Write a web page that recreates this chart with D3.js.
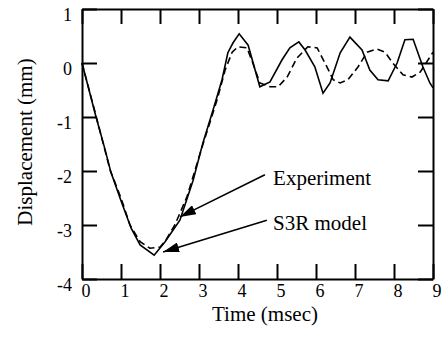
<!DOCTYPE html>
<html>
<head>
<meta charset="utf-8">
<script src="https://cdn.jsdelivr.net/npm/d3@7"></script>
<style>
  body { margin: 0; background: #fff; }
  text { font-family: "Liberation Serif", "Times New Roman", serif; fill: #000; }
</style>
</head>
<body>
<div id="chart"></div>
<script>
// time (msec) / displacement (mm)
const modelTime = [0, 0.36, 0.59, 0.74, 1.0, 1.26, 1.49, 1.85, 2.13, 2.51, 2.85, 3.10, 3.36, 3.59,
  3.74, 3.87, 4.03, 4.26, 4.56, 4.82, 5.13, 5.33, 5.56, 5.72, 5.97, 6.18, 6.36, 6.62, 6.87,
  7.18, 7.38, 7.59, 7.85, 8.08, 8.28, 8.49, 8.74, 8.92, 9.0];
const modelDisp = [0, -1.0, -1.6, -2.02, -2.55, -3.06, -3.37, -3.56, -3.31, -2.91, -2.17, -1.48, -0.87, -0.31,
  0.19, 0.37, 0.54, 0.33, -0.44, -0.35, 0.06, 0.28, 0.39, 0.24, -0.07, -0.56, -0.37, 0.19, 0.48,
  0.24, -0.13, -0.31, -0.33, 0, 0.43, 0.44, -0.07, -0.37, -0.46];

const expTime = [0, 0.36, 0.72, 1.0, 1.23, 1.49, 1.74, 2.0, 2.15, 2.38, 2.69, 3.03, 3.46, 3.67,
  3.85, 4.0, 4.23, 4.38, 4.56, 4.82, 5.03, 5.26, 5.51, 5.79, 6.03, 6.28, 6.44, 6.62, 6.82,
  7.08, 7.31, 7.56, 7.77, 7.97, 8.23, 8.46, 8.67, 8.92, 9.0];
const expDisp = [0, -0.98, -1.98, -2.5, -3.0, -3.31, -3.43, -3.41, -3.28, -3.0, -2.48, -1.67, -0.69, -0.13,
  0.2, 0.30, 0.28, 0, -0.37, -0.44, -0.44, -0.26, 0.09, 0.30, 0.28, -0.07, -0.31, -0.37, -0.31,
  -0.07, 0.2, 0.26, 0.2, 0, -0.22, -0.26, -0.17, 0.11, 0.2];

const xTicks = [0, 1, 2, 3, 4, 5, 6, 7, 8, 9];
const yTicks = [1, 0, -1, -2, -3, -4];

// annotation: label, label anchor, arrow tail, arrow tip (data units)
const notes = [
  {label: 'Experiment', at: [4.9, -2.26], from: [4.69, -2.07], to: [2.51, -2.85]},
  {label: 'S3R model', at: [4.9, -3.09], from: [4.74, -2.91], to: [2.08, -3.5]}
];

const W = 443, H = 343;
const margin = {top: 9, right: 10, bottom: 64, left: 82};

const svg = d3.select('#chart').append('svg')
  .attr('width', W)
  .attr('height', H);

const x = d3.scaleLinear().domain([0, 9]).range([margin.left, W - margin.right]);
const y = d3.scaleLinear().domain([-4, 1]).range([H - margin.bottom, margin.top]);

const tickLen = 15;

// inward ticks on all four sides
const axes = [
  d3.axisBottom(x).tickValues(xTicks).tickSizeInner(-tickLen),
  d3.axisTop(x).tickValues(xTicks).tickSizeInner(-tickLen),
  d3.axisLeft(y).tickValues(yTicks).tickSizeInner(-tickLen),
  d3.axisRight(y).tickValues(yTicks).tickSizeInner(-tickLen)
];
const shifts = [
  `translate(0,${y(-4)})`, `translate(0,${y(1)})`,
  `translate(${x(0)},0)`, `translate(${x(9)},0)`
];
axes.forEach((ax, i) => {
  let g = svg.append('g')
    .attr('transform', shifts[i])
    .call(ax.tickSizeOuter(0).tickFormat(''));
  g.select('.domain').attr('stroke-width', 2);
  g.selectAll('.tick line').attr('stroke-width', 2);
});

// tick labels
svg.append('g').selectAll('text')
  .data(xTicks)
  .join('text')
  .attr('x', d => x(d) + 4)
  .attr('y', y(-4) + 18)
  .attr('text-anchor', 'middle')
  .attr('font-size', 18)
  .text(d => d);

svg.append('g').selectAll('text')
  .data(yTicks)
  .join('text')
  .attr('x', x(0) - 10)
  .attr('y', d => y(d) + 12)
  .attr('text-anchor', 'end')
  .attr('font-size', 18)
  .text(d => d);

// axis titles
svg.append('text')
  .attr('x', 265)
  .attr('y', 321)
  .attr('text-anchor', 'middle')
  .attr('font-size', 21)
  .text('Time (msec)');

svg.append('text')
  .attr('transform', `translate(32,${(y(1) + y(-4)) / 2 - 2}) rotate(-90)`)
  .attr('text-anchor', 'middle')
  .attr('font-size', 21)
  .text('Displacement (mm)');

// curves
const line = d3.line().x(d => x(d[0])).y(d => y(d[1]));

svg.append('path')
  .datum(d3.zip(expTime, expDisp))
  .attr('d', line)
  .attr('fill', 'none')
  .attr('stroke', '#000')
  .attr('stroke-width', 1.6)
  .attr('stroke-dasharray', '7,4');

svg.append('path')
  .datum(d3.zip(modelTime, modelDisp))
  .attr('d', line)
  .attr('fill', 'none')
  .attr('stroke', '#000')
  .attr('stroke-width', 1.6);

// arrows + labels
svg.append('defs').append('marker')
  .attr('id', 'head')
  .attr('viewBox', '0 0 16 10')
  .attr('refX', 16)
  .attr('refY', 5)
  .attr('markerWidth', 16)
  .attr('markerHeight', 10)
  .attr('markerUnits', 'userSpaceOnUse')
  .attr('orient', 'auto')
  .append('path')
  .attr('d', 'M0,0L16,5L0,10Z')
  .attr('fill', '#000');

let note = svg.append('g').selectAll('g')
  .data(notes)
  .join('g');
note.append('line')
  .attr('x1', d => x(d.from[0]))
  .attr('y1', d => y(d.from[1]))
  .attr('x2', d => x(d.to[0]))
  .attr('y2', d => y(d.to[1]))
  .attr('stroke', '#000')
  .attr('stroke-width', 1.6)
  .attr('marker-end', 'url(#head)');
note.append('text')
  .attr('x', d => x(d.at[0]))
  .attr('y', d => y(d.at[1]))
  .attr('font-size', 21)
  .text(d => d.label);
</script>
</body>
</html>
